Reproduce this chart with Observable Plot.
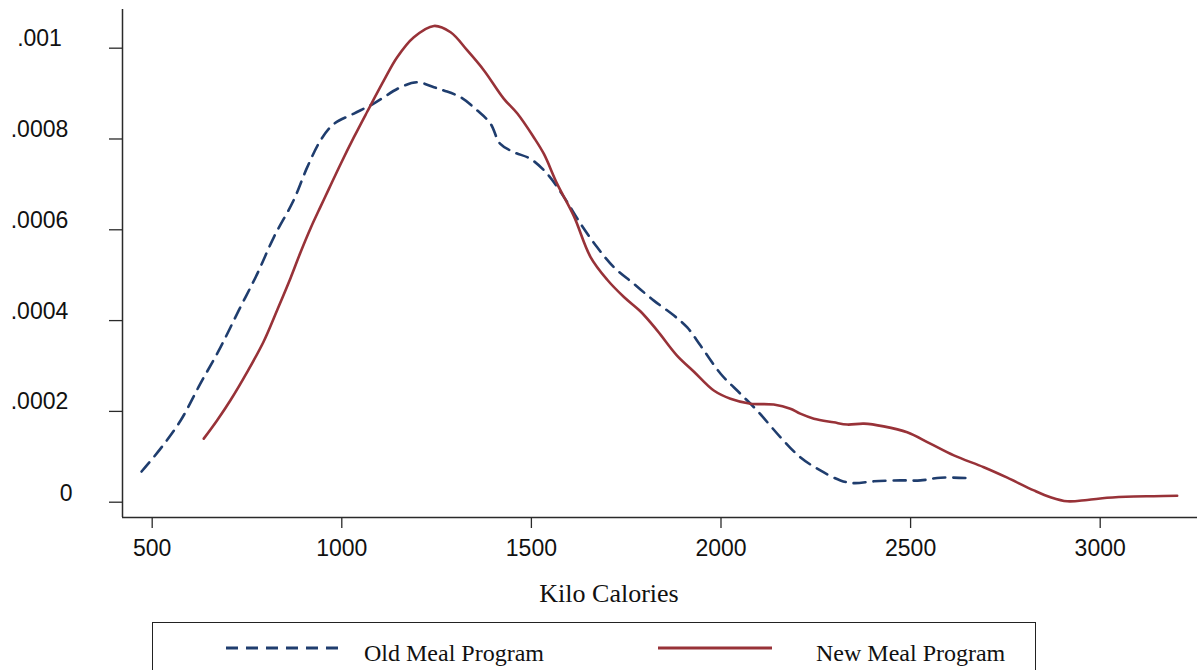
<!DOCTYPE html>
<html>
<head>
<meta charset="utf-8">
<script src="https://cdn.jsdelivr.net/npm/d3@7"></script>
<script src="https://cdn.jsdelivr.net/npm/@observablehq/plot@0.6"></script>
<style>
  html, body { margin: 0; padding: 0; background: #fff; overflow: hidden; }
  #wrap { position: relative; width: 1202px; height: 670px; }
  #legend { position: absolute; left: 152px; top: 622px; width: 884px; height: 80px;
            border: 1.5px solid #222; box-sizing: border-box; }
  .item { position: absolute; top: 0; height: 60px; font-family: "Liberation Serif", "Times New Roman", serif;
          font-size: 24px; color: #111; }
  .item svg { position: absolute; top: 0; }
  .item span { position: absolute; white-space: nowrap; top: 17px; }
</style>
</head>
<body>
<div id="wrap"><div id="chart"></div><div id="legend"></div></div>
<script>
// Kernel density: Old Meal Program
const oldX = [472,522,575,627,680,728,777,821,873,909,944,979,1032,1084,1155,1199,1243,1269,1313,1357,1392,1418,1454,1498,1542,1586,1630,1673,1717,1770,1823,1876,1911,1946,1999,2051,2095,2157,2209,2262,2315,2350,2403,2473,2526,2579,2654];
const oldY = [0.0000676,0.000118,0.000180,0.000261,0.000341,0.000422,0.000503,0.000584,0.000665,0.000738,0.000797,0.000833,0.000856,0.000878,0.000914,0.000925,0.000914,0.000907,0.000892,0.000863,0.000834,0.000789,0.000771,0.000756,0.000723,0.000672,0.000613,0.000562,0.000518,0.000481,0.000444,0.000411,0.000385,0.000345,0.000283,0.000239,0.000202,0.000143,0.000099,0.000070,0.000048,0.000042,0.000046,0.000048,0.000048,0.000054,0.000053];
// Kernel density: New Meal Program
const newX = [636,671,706,750,794,830,865,891,918,944,966,997,1032,1067,1111,1146,1190,1243,1287,1331,1375,1427,1463,1506,1533,1568,1612,1656,1700,1744,1788,1832,1884,1928,1981,2025,2078,2139,2183,2209,2245,2297,2333,2377,2429,2491,2552,2614,2693,2755,2825,2869,2913,2966,3018,3089,3141,3203];
const newY = [0.000140,0.000180,0.000224,0.000286,0.000354,0.000424,0.000494,0.000550,0.000604,0.000651,0.000690,0.000745,0.000804,0.000860,0.000929,0.000980,0.001024,0.001049,0.001035,0.000995,0.000951,0.000889,0.000856,0.000804,0.000767,0.000701,0.000630,0.000540,0.000490,0.000452,0.000420,0.000378,0.000323,0.000288,0.000246,0.000228,0.000217,0.000215,0.000206,0.000195,0.000184,0.000176,0.000171,0.000173,0.000167,0.000154,0.000129,0.000103,0.000077,0.000054,0.000026,0.000011,0.000002,0.000005,0.0000097,0.0000126,0.0000132,0.0000141];

const xTicks = [500, 1000, 1500, 2000, 2500, 3000];
const yTicks = [0, 0.0002, 0.0004, 0.0006, 0.0008, 0.001];
const yTickLabels = ["0", ".0002", ".0004", ".0006", ".0008", ".001"];
const seriesNames = ["Old Meal Program", "New Meal Program"];
const xTitle = "Kilo Calories";

const navy = "#1f3d6e";
const maroon = "#983238";
const axisColor = "#2a2a2a";

const oldData = oldX.map((x, i) => ({x, y: oldY[i]}));
const newData = newX.map((x, i) => ({x, y: newY[i]}));
const xDomain = [421.7, 3256.6];
const yDomain = [-0.0000337, 0.0010852];
const yTickData = yTicks.map((v, i) => ({v, label: yTickLabels[i]}));

const sans = "'Liberation Sans', Arial, Helvetica, sans-serif";
const serif = "'Liberation Serif', 'Times New Roman', serif";

const chart = Plot.plot({
  width: 1202,
  height: 615,
  marginLeft: 122,
  marginRight: 5,
  marginTop: 9,
  marginBottom: 98,
  style: {background: "#fff", fontFamily: sans},
  x: {domain: xDomain, axis: null},
  y: {domain: yDomain, axis: null},
  marks: [
    Plot.axisX(xTicks, {tickSize: 11, tickPadding: 11, fontSize: 23, stroke: axisColor, strokeWidth: 1.3,
      fill: "#111", tickFormat: d => String(d), label: null}),
    Plot.axisY(yTicks, {tickSize: 13, stroke: axisColor, strokeWidth: 1.3, text: null, label: null}),
    Plot.text(yTickData.filter(d => d.v !== 0), {y: "v", text: "label", frameAnchor: "left", dx: -83,
      dy: -2, textAnchor: "middle", lineAnchor: "bottom", fontSize: 23, fill: "#111"}),
    Plot.text(yTickData.filter(d => d.v === 0), {y: "v", text: "label", frameAnchor: "left", dx: -50,
      dy: -1, textAnchor: "end", lineAnchor: "bottom", fontSize: 23, fill: "#111"}),
    Plot.ruleX([xDomain[0]], {stroke: axisColor, strokeWidth: 1.5}),
    Plot.ruleY([yDomain[0]], {stroke: axisColor, strokeWidth: 1.5}),
    Plot.line(oldData, {x: "x", y: "y", stroke: navy, strokeWidth: 2.6, strokeDasharray: "12,8",
      curve: "catmull-rom"}),
    Plot.line(newData, {x: "x", y: "y", stroke: maroon, strokeWidth: 2.6, curve: "catmull-rom"}),
    Plot.text([xTitle], {frameAnchor: "bottom", dx: -51, dy: 84, lineAnchor: "bottom",
      fontSize: 26, fontFamily: serif, fill: "#111"})
  ]
});
document.getElementById("chart").appendChild(chart);

// Legend (below the SVG)
const legend = document.getElementById("legend");
const items = [
  {name: seriesNames[0], color: navy, dash: "12,8", lineLeft: 73, textLeft: 211},
  {name: seriesNames[1], color: maroon, dash: null, lineLeft: 505, textLeft: 663}
];
for (const it of items) {
  const div = document.createElement("div");
  div.className = "item";
  div.style.left = "0px";
  div.innerHTML =
    `<svg width="120" height="40" style="left:${it.lineLeft}px"><line x1="0" x2="114" y1="25" y2="25" stroke="${it.color}" stroke-width="3" ${it.dash ? `stroke-dasharray="${it.dash}"` : ""}/></svg>` +
    `<span style="left:${it.textLeft}px">${it.name}</span>`;
  legend.appendChild(div);
}
</script>
</body>
</html>
